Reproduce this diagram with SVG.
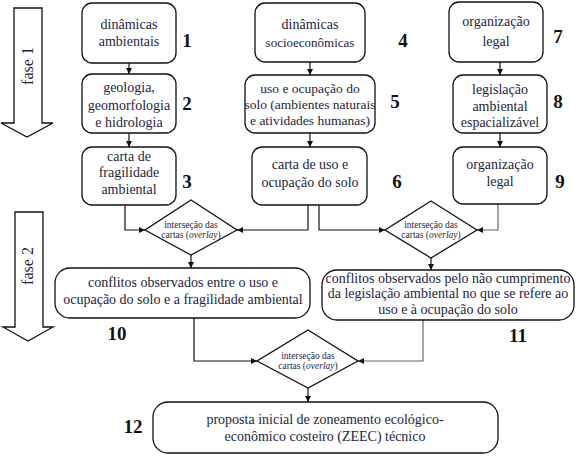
<svg xmlns="http://www.w3.org/2000/svg" width="579" height="456" viewBox="0 0 579 456">
<defs>
<marker id="ah" viewBox="0 0 10 10" refX="10" refY="5" markerWidth="6" markerHeight="6" orient="auto" markerUnits="userSpaceOnUse">
<path d="M0,0 L10,5 L0,10 z" fill="#111"/>
</marker>
<style>
text{font-family:'Liberation Serif','DejaVu Serif',serif}
.box{fill:#fff;stroke:#111;stroke-width:1.3}
.t{font-size:14px;fill:#1e1e3c;text-anchor:middle}
.s{font-size:9.5px;fill:#1e1e3c;text-anchor:middle}
.n{font-size:19px;font-weight:bold;fill:#111;text-anchor:middle}
.f{font-size:16px;fill:#1e1e3c;text-anchor:middle}
.c{fill:none;stroke:#111;stroke-width:1.2}
.g{fill:none;stroke:#666;stroke-width:1.2}
</style>
</defs>
<rect width="579" height="456" fill="#fff"/>

<g id="fase1">
<path class="box" d="M14,8 H42 V123 H53 L27,137 L1,123 H14 Z"/>
<text class="f" transform="translate(33,66) rotate(-90)">fase 1</text>
</g>
<g id="fase2">
<path class="box" d="M15,212 H43 V327 H53 L28,341 L3,327 H15 Z"/>
<text class="f" transform="translate(33,266) rotate(-90)">fase 2</text>
</g>

<g id="connectors">
<line class="c" x1="129" y1="63" x2="129" y2="74" marker-end="url(#ah)"/>
<line class="c" x1="129" y1="133" x2="129" y2="147" marker-end="url(#ah)"/>
<line class="c" x1="310" y1="62" x2="310" y2="75" marker-end="url(#ah)"/>
<line class="c" x1="310" y1="133" x2="310" y2="147" marker-end="url(#ah)"/>
<line class="c" x1="500" y1="62" x2="500" y2="75" marker-end="url(#ah)"/>
<line class="c" x1="500" y1="133" x2="500" y2="147" marker-end="url(#ah)"/>
<polyline class="c" points="125,205 125,230 145,230" marker-end="url(#ah)"/>
<polyline class="c" points="308,205 308,230 237,230" marker-end="url(#ah)"/>
<polyline class="c" points="319,205 319,230 385,230" marker-end="url(#ah)"/>
<polyline class="g" points="498,204 498,230 477,230" marker-end="url(#ah)"/>
<line class="c" x1="191" y1="255" x2="191" y2="268" marker-end="url(#ah)"/>
<line class="c" x1="431" y1="258" x2="431" y2="270" marker-end="url(#ah)"/>
<polyline class="c" points="194,318 194,361 257,361" marker-end="url(#ah)"/>
<polyline class="g" points="423,320 423,361 358,361" marker-end="url(#ah)"/>
<line class="c" x1="308" y1="388" x2="308" y2="402" marker-end="url(#ah)"/>
</g>

<g id="n1">
<rect class="box" x="82" y="3" width="94" height="60" rx="10"/>
<text class="t" x="129" y="29">dinâmicas</text>
<text class="t" x="129" y="46">ambientais</text>
<text class="n" x="187" y="47">1</text>
</g>
<g id="n2">
<rect class="box" x="82" y="74" width="94" height="59" rx="10"/>
<text class="t" x="129" y="92">geologia,</text>
<text class="t" x="129" y="110">geomorfologia</text>
<text class="t" x="129" y="127">e hidrologia</text>
<text class="n" x="187" y="110">2</text>
</g>
<g id="n3">
<rect class="box" x="82" y="147" width="94" height="58" rx="10"/>
<text class="t" x="129" y="161">carta de</text>
<text class="t" x="129" y="177">fragilidade</text>
<text class="t" x="129" y="194">ambiental</text>
<text class="n" x="187" y="188">3</text>
</g>
<g id="n4">
<rect class="box" x="255" y="3" width="110" height="59" rx="10"/>
<text class="t" x="310" y="29">dinâmicas</text>
<text class="t" x="310" y="47" style="font-size:13px">socioeconômicas</text>
<text class="n" x="403" y="47">4</text>
</g>
<g id="n5">
<rect class="box" x="245" y="75" width="130" height="58" rx="10"/>
<text class="t" x="310" y="93" style="font-size:13.5px">uso e ocupação do</text>
<text class="t" x="310" y="109" style="font-size:13.5px">solo (ambientes naturais</text>
<text class="t" x="310" y="125" style="font-size:13.5px">e atividades humanas)</text>
<text class="n" x="395" y="108">5</text>
</g>
<g id="n6">
<rect class="box" x="252" y="147" width="115" height="58" rx="10"/>
<text class="t" x="310" y="169">carta de uso e</text>
<text class="t" x="310" y="187">ocupação do solo</text>
<text class="n" x="397" y="188">6</text>
</g>
<g id="n7">
<rect class="box" x="449" y="2" width="94" height="60" rx="10"/>
<text class="t" x="496" y="26">organização</text>
<text class="t" x="496" y="46">legal</text>
<text class="n" x="558" y="43">7</text>
</g>
<g id="n8">
<rect class="box" x="453" y="75" width="94" height="58" rx="10"/>
<text class="t" x="500" y="94">legislação</text>
<text class="t" x="500" y="111">ambiental</text>
<text class="t" x="500" y="127">espacializável</text>
<text class="n" x="558" y="108">8</text>
</g>
<g id="n9">
<rect class="box" x="453" y="147" width="94" height="57" rx="10"/>
<text class="t" x="500" y="169">organização</text>
<text class="t" x="500" y="186">legal</text>
<text class="n" x="560" y="188">9</text>
</g>

<g id="d1">
<polygon class="box" points="191,200 237,230 191,255 145,230"/>
<text class="s" x="191" y="228">interseção das</text>
<text class="s" x="191" y="238">cartas (<tspan font-style="italic">overlay</tspan>)</text>
</g>
<g id="d2">
<polygon class="box" points="431,201 477,230 431,258 385,230"/>
<text class="s" x="431" y="228">interseção das</text>
<text class="s" x="431" y="238">cartas (<tspan font-style="italic">overlay</tspan>)</text>
</g>

<g id="n10">
<rect class="box" x="55" y="268" width="255" height="50" rx="15"/>
<text class="t" x="183" y="287">conflitos observados entre o uso e</text>
<text class="t" x="183" y="304">ocupação do solo e a fragilidade ambiental</text>
<text class="n" x="117" y="340">10</text>
</g>
<g id="n11">
<rect class="box" x="322" y="270" width="252" height="50" rx="15"/>
<text class="t" x="448" y="283">conflitos observados pelo não cumprimento</text>
<text class="t" x="448" y="298">da legislação ambiental no que se refere ao</text>
<text class="t" x="448" y="314">uso e à ocupação do solo</text>
<text class="n" x="518" y="342">11</text>
</g>

<g id="d3">
<polygon class="box" points="308,330 358,361 308,388 257,361"/>
<text class="s" x="308" y="359">interseção das</text>
<text class="s" x="308" y="369">cartas (<tspan font-style="italic">overlay</tspan>)</text>
</g>

<g id="n12">
<rect class="box" x="153" y="402" width="345" height="51" rx="15"/>
<text class="t" x="325" y="424">proposta inicial de zoneamento ecológico-</text>
<text class="t" x="325" y="441">econômico costeiro (ZEEC) técnico</text>
<text class="n" x="133" y="433">12</text>
</g>
</svg>
